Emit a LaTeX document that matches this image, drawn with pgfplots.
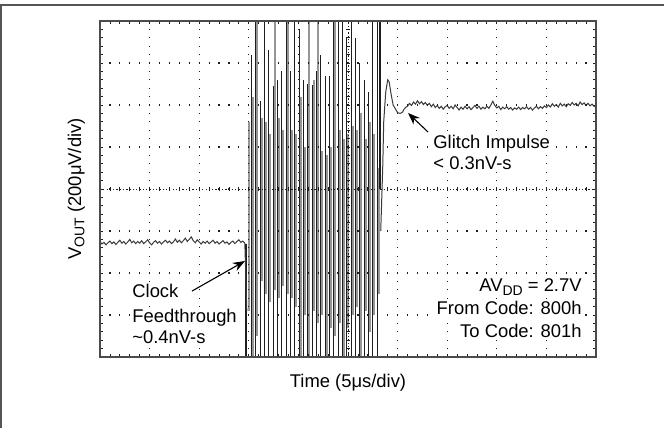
\documentclass[border=0pt]{standalone}
\usepackage{pgfplots}
\pgfplotsset{compat=1.18}
\usepackage{fontspec}
\setmainfont{Liberation Sans}
\usetikzlibrary{arrows.meta}
\definecolor{tr}{HTML}{3A3A3A}
\definecolor{gr}{HTML}{969696}
\definecolor{bk}{HTML}{1E1E1E}
\definecolor{fr}{HTML}{555555}
\newcommand\lbl{\fontsize{9.2}{11}\selectfont}
\begin{document}
\begin{tikzpicture}
\useasboundingbox (0,0) rectangle (332pt,214pt);
\draw[fr, line width=0.7pt] (0,211.5pt) -- (332pt,211.5pt);
\draw[fr, line width=0.7pt] (0.5pt,0) -- (0.5pt,211.5pt);
\begin{axis}[
 at={(50pt,35.5pt)}, anchor=south west,
 scale only axis, width=248pt, height=168pt,
 xmin=0, xmax=10, ymin=-4, ymax=4,
 xtick={0,...,10}, ytick={-4,...,4},
 minor tick num=4,
 xticklabels={}, yticklabels={},
 tick align=inside,
 major tick length=1.6pt, minor tick length=1.6pt,
 tick style={bk, line width=0.4pt},
 minor tick style={bk, line width=0.4pt},
 grid=major,
 x grid style={bk, line width=0.6pt, dash pattern=on 0.6pt off 3.6pt, dash phase=0.3pt},
 y grid style={bk, line width=0.6pt, dash pattern=on 0.6pt off 4.36pt, dash phase=0.3pt},
 axis line style={bk!80!white, line width=1.1pt},
 axis on top,
 unbounded coords=jump,
]
% gray oscillation strokes
\addplot[gr, line width=0.9pt] coordinates {
(3.004,-2.9)(3.004,1.6)(3.004,nan)
(3.085,-5)(3.085,2.2)(3.085,nan)
(3.165,-3.5)(3.165,5)(3.165,nan)
(3.266,-2.2)(3.266,1.7)(3.266,nan)
(3.347,-2.5)(3.347,1.6)(3.347,nan)
(3.427,-2.7)(3.427,1.3)(3.427,nan)
(3.528,-2.4)(3.528,5)(3.528,nan)
(3.609,-2.6)(3.609,1.7)(3.609,nan)
(3.690,-2.3)(3.690,1.4)(3.690,nan)
(3.790,-2.5)(3.790,5)(3.790,nan)
(3.871,-2.6)(3.871,1.4)(3.871,nan)
(3.952,-2.8)(3.952,1.3)(3.952,nan)
(4.052,-5)(4.052,2.2)(4.052,nan)
(4.133,-3.0)(4.133,1.0)(4.133,nan)
(4.214,-5)(4.214,5)(4.214,nan)
(4.315,-2.9)(4.315,2.6)(4.315,nan)
(4.395,-3.2)(4.395,5)(4.395,nan)
(4.476,-3.0)(4.476,0.9)(4.476,nan)
(4.577,-5)(4.577,0.8)(4.577,nan)
(4.657,-3.3)(4.657,1.0)(4.657,nan)
(4.738,-3.5)(4.738,5)(4.738,nan)
(4.839,-3.2)(4.839,1.4)(4.839,nan)
(4.919,-5)(4.919,1.2)(4.919,nan)
(5.000,-3.3)(5.000,1.3)(5.000,nan)
(5.101,-3.0)(5.101,1.5)(5.101,nan)
(5.181,-2.8)(5.181,1.4)(5.181,nan)
(5.262,-5)(5.262,1.8)(5.262,nan)
(5.363,-2.9)(5.363,1.2)(5.363,nan)
(5.444,-3.4)(5.444,1.6)(5.444,nan)
(5.524,-3.0)(5.524,1.3)(5.524,nan)
(5.625,-2.5)(5.625,0.5)
};
% black oscillation strokes
\addplot[bk, line width=0.42pt] coordinates {
(3.044,-5)(3.044,3.2)(3.044,nan)
(3.125,-5)(3.125,5)(3.125,nan)
(3.226,-5)(3.226,2.1)(3.226,nan)
(3.306,-5)(3.306,5)(3.306,nan)
(3.387,-5)(3.387,3.3)(3.387,nan)
(3.488,-5)(3.488,2.45)(3.488,nan)
(3.569,-5)(3.569,2.6)(3.569,nan)
(3.649,-5)(3.649,2.8)(3.649,nan)
(3.750,-4.2)(3.750,5)(3.750,nan)
(3.831,-5)(3.831,2.8)(3.831,nan)
(3.911,-5)(3.911,5)(3.911,nan)
(4.012,-5)(4.012,3.8)(4.012,nan)
(4.093,-5)(4.093,2.6)(4.093,nan)
(4.173,-5)(4.173,2.5)(4.173,nan)
(4.274,-5)(4.274,2.47)(4.274,nan)
(4.355,-5)(4.355,2.8)(4.355,nan)
(4.435,-5)(4.435,3.2)(4.435,nan)
(4.536,-5)(4.536,2.7)(4.536,nan)
(4.617,-5)(4.617,2.7)(4.617,nan)
(4.698,-5)(4.698,5)(4.698,nan)
(4.798,-4.5)(4.798,5)(4.798,nan)
(4.879,-5)(4.879,5)(4.879,nan)
(4.960,-5)(4.960,3.6)(4.960,nan)
(5.060,-5)(5.060,5)(5.060,nan)
(5.141,-5)(5.141,3.6)(5.141,nan)
(5.222,-5)(5.222,3.0)(5.222,nan)
(5.323,-5)(5.323,2.6)(5.323,nan)
(5.403,-5)(5.403,2.3)(5.403,nan)
(5.484,-5)(5.484,5)(5.484,nan)
(5.585,-4.0)(5.585,5)
};
% thick black edges
\addplot[bk, line width=1.2pt] coordinates {
(2.944,-5)(2.944,-1.3)(2.944,nan)
(5.645,0)(5.645,5)
};
% left baseline trace
\addplot[tr, line width=0.5pt] coordinates {
(0.00,-1.25)(0.04,-1.31)(0.08,-1.27)(0.12,-1.33)(0.16,-1.28)(0.20,-1.24)(0.24,-1.30)(0.28,-1.26)(0.32,-1.32)(0.36,-1.27)
(0.40,-1.22)(0.44,-1.29)(0.48,-1.25)(0.52,-1.31)(0.56,-1.26)(0.60,-1.20)(0.64,-1.28)(0.68,-1.24)(0.72,-1.30)(0.76,-1.25)
(0.80,-1.29)(0.84,-1.23)(0.88,-1.30)(0.92,-1.26)(0.96,-1.21)(1.00,-1.28)(1.04,-1.33)(1.08,-1.27)(1.12,-1.23)(1.16,-1.29)
(1.20,-1.25)(1.24,-1.31)(1.28,-1.26)(1.32,-1.22)(1.36,-1.28)(1.40,-1.24)(1.44,-1.30)(1.48,-1.26)(1.52,-1.19)(1.56,-1.27)
(1.60,-1.22)(1.64,-1.28)(1.68,-1.23)(1.72,-1.17)(1.76,-1.25)(1.80,-1.20)(1.84,-1.14)(1.88,-1.23)(1.92,-1.28)(1.96,-1.21)
(2.00,-1.26)(2.04,-1.31)(2.08,-1.25)(2.12,-1.29)(2.16,-1.24)(2.20,-1.30)(2.24,-1.26)(2.28,-1.22)(2.32,-1.29)(2.36,-1.25)
(2.40,-1.31)(2.44,-1.27)(2.48,-1.23)(2.52,-1.29)(2.56,-1.26)(2.60,-1.32)(2.64,-1.27)(2.68,-1.24)(2.72,-1.30)(2.76,-1.25)
(2.80,-1.21)(2.84,-1.27)(2.88,-1.24)(2.92,-1.29)(2.96,-2.9)
};
% right settling trace
\addplot[tr, line width=0.5pt] coordinates {
(5.66,-1.00)(5.70,0.5)(5.72,1.6)(5.76,2.3)(5.80,2.6)(5.83,2.55)(5.87,2.25)
(5.91,2.00)(5.95,1.92)(6.00,1.82)(6.05,1.80)(6.10,1.83)(6.13,1.90)(6.17,1.95)
(6.20,1.97)(6.24,2.04)(6.28,1.99)(6.32,2.07)(6.36,2.02)(6.40,2.10)(6.44,2.03)(6.48,2.08)(6.52,2.01)(6.56,2.06)
(6.60,1.99)(6.64,2.04)(6.68,1.96)(6.72,2.02)(6.76,1.94)(6.80,1.99)(6.84,1.92)(6.88,1.97)(6.92,1.90)(6.96,1.96)
(7.00,1.99)(7.04,1.92)(7.08,1.97)(7.12,1.91)(7.16,2.00)(7.20,1.94)(7.24,1.88)(7.28,1.95)(7.32,1.90)(7.36,1.97)
(7.40,1.91)(7.44,1.96)(7.48,1.89)(7.52,1.94)(7.56,1.99)(7.60,1.92)(7.64,1.97)(7.68,1.90)(7.72,1.95)(7.76,1.91)
(7.80,1.97)(7.84,1.92)(7.88,2.00)(7.92,2.09)(7.96,1.99)(8.00,1.93)(8.04,1.97)(8.08,1.89)(8.12,1.95)(8.16,1.91)
(8.20,1.96)(8.24,1.90)(8.28,1.94)(8.32,1.88)(8.36,1.93)(8.40,1.90)(8.44,1.95)(8.48,1.89)(8.52,1.94)(8.56,1.91)
(8.60,1.96)(8.64,1.90)(8.68,1.94)(8.72,1.88)(8.76,1.93)(8.80,1.97)(8.84,1.91)(8.88,1.96)(8.92,1.92)(8.96,1.98)
(9.00,1.94)(9.04,2.00)(9.08,1.95)(9.12,2.03)(9.16,1.97)(9.20,2.01)(9.24,1.95)(9.28,2.04)(9.32,1.98)(9.36,2.02)
(9.40,1.96)(9.44,2.03)(9.48,1.99)(9.52,2.06)(9.56,2.00)(9.60,2.04)(9.64,1.98)(9.68,2.07)(9.72,2.01)(9.76,2.05)
(9.80,1.99)(9.84,2.04)(9.88,1.98)(9.92,2.02)(9.96,1.97)(10.00,1.95)
};
% centre crosshair
\pgfplotsextra{
 \draw[bk, line width=0.5pt, dash pattern=on 0.6pt off 1.05pt] (axis cs:0,0) -- (axis cs:10,0);
 \draw[bk, line width=0.5pt, dash pattern=on 0.6pt off 1.05pt] (axis cs:5,-4) -- (axis cs:5,4);
 \foreach \i in {1,...,49} {
   \draw[bk, line width=0.4pt] (axis cs:{\i*0.2},-0.05) -- (axis cs:{\i*0.2},0.05);
 }
 \foreach \i in {1,...,39} {
   \draw[bk, line width=0.4pt] (axis cs:4.96,{-4+\i*0.2}) -- (axis cs:5.04,{-4+\i*0.2});
 }
}
% annotations
\draw[-{Stealth[length=6pt,width=4.5pt]}, line width=0.55pt] (axis cs:6.613,1.357) -- (axis cs:6.21,1.81);
\draw[-{Stealth[length=6pt,width=4.5pt]}, line width=0.55pt] (axis cs:1.855,-2.43) -- (axis cs:2.923,-1.714);
\coordinate (g1) at (axis cs:6.714,0.976);
\coordinate (g2) at (axis cs:6.714,0.476);
\coordinate (c1) at (axis cs:0.645,-2.595);
\coordinate (c2) at (axis cs:0.645,-3.167);
\coordinate (c3) at (axis cs:0.645,-3.667);
\coordinate (r1) at (axis cs:9.718,-2.452);
\coordinate (r2) at (axis cs:9.718,-3.0);
\coordinate (r3) at (axis cs:9.718,-3.524);
\end{axis}
\begin{scope}[every node/.style={fill=white, inner sep=1pt}]
\node[anchor=base west] at ([xshift=-1pt]g1) {\lbl Glitch Impulse};
\node[anchor=base west] at ([xshift=-1pt]g2) {\lbl < 0.3nV-s};
\node[anchor=base west] at ([xshift=-1pt]c1) {\lbl Clock};
\node[anchor=base west] at ([xshift=-1pt]c2) {\lbl Feedthrough};
\node[anchor=base west] at ([xshift=-1pt]c3) {\lbl \textasciitilde 0.4nV-s};
\node[anchor=base east] at ([xshift=1pt]r1) {\lbl AV\raisebox{-0.4ex}{\fontsize{7}{8}\selectfont DD} = 2.7V};
\node[anchor=base east] at ([xshift=1pt]r2) {\lbl From Code: 800h};
\node[anchor=base east] at ([xshift=1pt]r3) {\lbl To Code: 801h};
\end{scope}
\node[anchor=base, inner sep=0pt] at (174pt,20pt) {\lbl Time (5μs/div)};
\node[anchor=base, rotate=90, inner sep=0pt] at (40.5pt,119.5pt) {\lbl V\raisebox{-0.35ex}{\fontsize{7}{8}\selectfont OUT} (200μV/div)};
\end{tikzpicture}
\end{document}
